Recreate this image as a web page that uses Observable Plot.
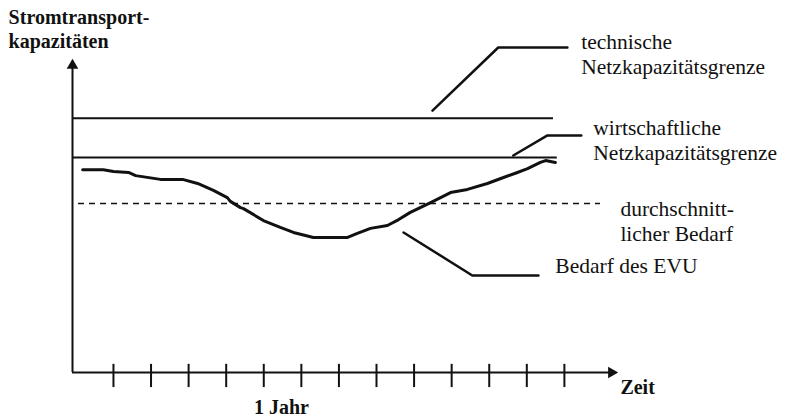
<!DOCTYPE html>
<html>
<head>
<meta charset="utf-8">
<script src="https://cdn.jsdelivr.net/npm/d3@7"></script>
<script src="https://cdn.jsdelivr.net/npm/@observablehq/plot@0.6"></script>
<style>
  html, body { margin: 0; padding: 0; background: #fff; }
</style>
</head>
<body>
<div id="chart"></div>
<script>
// ---- data (time in months-ish units, capacity in arbitrary units 0..100) ----
const timeTicks = [1, 2, 3, 4, 5, 6, 7, 8, 9, 10, 11, 12, 13];
const tickLabel = "1 Jahr";
const tickLabelAt = 5.47;

const demandTime = [0.18, 0.73, 1.0, 1.4, 1.59, 2.25, 2.84, 3.24, 3.66, 4.03, 4.11, 4.38, 4.46, 4.99, 5.44, 5.79, 6.32, 7.23, 7.49, 7.84, 8.29, 8.59, 8.9, 9.44, 9.97, 10.42, 10.95, 11.38, 11.75, 12.02, 12.36, 12.5, 12.76];
const demandValue = [64.6, 64.6, 64.0, 63.7, 62.7, 61.5, 61.5, 60.2, 58.0, 55.7, 54.5, 52.5, 52.2, 48.4, 46.2, 44.6, 43.0, 43.0, 44.3, 45.9, 46.8, 48.7, 51.0, 54.1, 57.3, 58.3, 60.2, 62.1, 63.7, 64.9, 66.9, 67.5, 66.9];

const limitNames = ["technische", "wirtschaftliche", "durchschnittlich"];
const limitValues = [81, 68.5, 53.8];
const limitStart = [-0.09, -0.09, 0.07];
const limitEnd = [12.71, 12.81, 13.96];

const axisStart = -0.09;
const axisEndX = 14.44;
const axisEndY = 100;

// leader lines (time, capacity)
const leaderTech = [[9.49, 83.4], [11.24, 103.5], [13.08, 103.5]];
const leaderEcon = [[11.64, 69.1], [12.55, 75.5], [13.45, 75.5]];
const leaderDemand = [[8.72, 44.6], [10.55, 30.9], [12.31, 30.9]];

// labels
const labelTexts = ["technische", "Netzkapazitätsgrenze", "wirtschaftliche", "Netzkapazitätsgrenze", "durchschnitt-", "licher Bedarf", "Bedarf des EVU"];
const labelTime = [13.45, 13.45, 13.77, 13.77, 14.49, 14.49, 12.76];
const labelValue = [102.9, 95.2, 75.5, 67.8, 50.0, 42.0, 31.8];

const yTitle = ["Stromtransport-", "kapazitäten"];
const yTitleTime = [-1.79, -1.79];
const yTitleValue = [111.1, 103.5];
const xTitle = "Zeit";
const xTitleTime = 14.49;
const xTitleValue = -7.0;
const tickLabelValue = -13.1;

// ---- build tables ----
const demand = demandTime.map((t, i) => ({t, v: demandValue[i]}));
const limits = limitNames.map((n, i) => ({name: n, v: limitValues[i], x1: limitStart[i], x2: limitEnd[i]}));
const toPts = (arr, id) => arr.map(([t, v]) => ({t, v, id}));
const leaders = [...toPts(leaderTech, "tech"), ...toPts(leaderEcon, "econ"), ...toPts(leaderDemand, "demand")];
const labels = labelTexts.map((s, i) => ({s, t: labelTime[i], v: labelValue[i]}));
const titles = yTitle.map((s, i) => ({s, t: yTitleTime[i], v: yTitleValue[i]}));

const font = "'Liberation Serif', 'Times New Roman', serif";

const chart = Plot.plot({
  width: 788,
  height: 417,
  marginLeft: 72,
  marginRight: 170,
  marginTop: 58,
  marginBottom: 45,
  x: {domain: [axisStart, axisEndX], axis: null},
  y: {domain: [0, axisEndY], axis: null},
  style: {background: "#fff", fontFamily: font, color: "#111"},
  marks: [
    // axes
    Plot.ruleY([0], {x1: axisStart, x2: axisEndX - 0.2, stroke: "#111", strokeWidth: 2}),
    Plot.ruleX([axisStart], {y1: 0, y2: axisEndY - 2, stroke: "#111", strokeWidth: 2}),
    Plot.dot([{t: axisStart, v: axisEndY}], {x: "t", y: "v", symbol: "triangle", r: 4.3, fill: "#111", stroke: null, dy: 7}),
    Plot.dot([{t: axisEndX, v: 0}], {x: "t", y: "v", symbol: "triangle", r: 4.3, fill: "#111", stroke: null, rotate: 90, dx: -7}),
    // ticks
    Plot.ruleX(timeTicks, {x: d => d, y1: -4.8, y2: 2.6, stroke: "#111", strokeWidth: 2}),
    // limit lines
    Plot.ruleY(limits.filter(d => d.name !== "durchschnittlich"), {y: "v", x1: "x1", x2: "x2", stroke: "#111", strokeWidth: 2}),
    Plot.ruleY(limits.filter(d => d.name === "durchschnittlich"), {y: "v", x1: "x1", x2: "x2", stroke: "#111", strokeWidth: 1.4, strokeDasharray: "6,5"}),
    // demand curve
    Plot.line(demand, {x: "t", y: "v", stroke: "#111", strokeWidth: 3, strokeLinejoin: "round", strokeLinecap: "round"}),
    // leader lines
    Plot.line(leaders, {x: "t", y: "v", z: "id", stroke: "#111", strokeWidth: 2.5}),
    // labels
    Plot.text(labels, {x: "t", y: "v", text: "s", textAnchor: "start", lineAnchor: "bottom", fontSize: 21.5, fill: "#111"}),
    Plot.text(titles, {x: "t", y: "v", text: "s", textAnchor: "start", lineAnchor: "bottom", fontSize: 20, fontWeight: "bold", fill: "#111"}),
    Plot.text([{s: xTitle, t: xTitleTime, v: xTitleValue}], {x: "t", y: "v", text: "s", textAnchor: "start", lineAnchor: "bottom", fontSize: 20, fontWeight: "bold", fill: "#111"}),
    Plot.text([{s: tickLabel, t: tickLabelAt, v: tickLabelValue}], {x: "t", y: "v", text: "s", textAnchor: "middle", lineAnchor: "bottom", fontSize: 20, fontWeight: "bold", fill: "#111"})
  ]
});
document.getElementById("chart").appendChild(chart);
</script>
</body>
</html>
